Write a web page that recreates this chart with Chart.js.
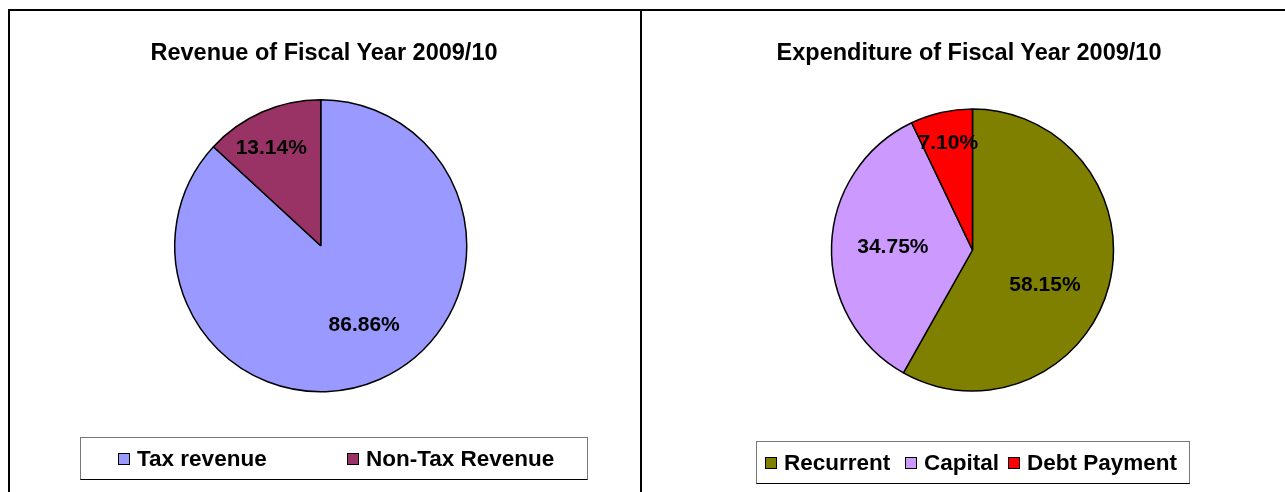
<!DOCTYPE html>
<html>
<head>
<meta charset="utf-8">
<script src="https://cdn.jsdelivr.net/npm/chart.js@4/dist/chart.umd.min.js"></script>
<style>
  body { margin: 0; background: #fff; font-family: "Liberation Sans", Arial, sans-serif; }
  #page { position: relative; width: 1285px; height: 492px; overflow: hidden; }
  .frame { position: absolute; background: #000; }
  canvas { position: absolute; top: 0; }
  .title { position: absolute; font-weight: bold; font-size: 23.5px; color: #000; white-space: nowrap; transform: translateX(-50%); }
  .legend { position: absolute; border: 1px solid #777; border-bottom-color: #000; box-sizing: border-box; }
  .legend .item { position: absolute; top: 0; height: 100%; display: flex; align-items: center; font-weight: bold; font-size: 22.5px; white-space: nowrap; }
  .legend .box { width: 10px; height: 10px; border: 1px solid #000; margin-right: 7px; }
</style>
</head>
<body>
<div id="page">
  <div class="frame" style="left:8px;top:9px;width:1277px;height:2px"></div>
  <div class="frame" style="left:8px;top:9px;width:2px;height:483px"></div>
  <div class="frame" style="left:640px;top:9px;width:2px;height:483px"></div>

  <canvas id="revenueChart" width="641" height="492" style="left:0"></canvas>
  <canvas id="expenditureChart" width="642" height="492" style="left:643px"></canvas>

  <div class="title" style="left:324px;top:39px">Revenue of Fiscal Year 2009/10</div>
  <div class="title" style="left:969px;top:39px">Expenditure of Fiscal Year 2009/10</div>

  <div class="legend" id="revenueLegend" style="left:80px;top:437px;width:508px;height:43px"></div>
  <div class="legend" id="expenditureLegend" style="left:756px;top:441px;width:434px;height:43px"></div>
</div>

<script>
// Revenue
const revenueLabels = ['Tax revenue', 'Non-Tax Revenue'];
const revenueShares = [86.86, 13.14];
const revenueColors = ['#9999FF', '#993366'];

// Expenditure
const expenditureLabels = ['Recurrent', 'Capital', 'Debt Payment'];
const expenditureShares = [58.15, 34.75, 7.10];
const expenditureColors = ['#808000', '#CC99FF', '#FF0000'];

// where the % labels sit: fraction of radius, and a nudge (degrees) off the slice middle
const revenueLabelPos = [[0.62, -5], [0.75, -3.2]];
const expenditureLabelPos = [[0.57, 11], [0.565, 0], [0.775, 0]];

const pctLabels = {
  id: 'pctLabels',
  afterDatasetsDraw(chart, args, opts) {
    const ctx = chart.ctx;
    const meta = chart.getDatasetMeta(0);
    const values = chart.data.datasets[0].data;
    ctx.save();
    ctx.font = 'bold 21px "Liberation Sans", Arial, sans-serif';
    ctx.fillStyle = '#000';
    ctx.textAlign = 'center';
    ctx.textBaseline = 'middle';
    meta.data.forEach(function (arc, i) {
      const p = arc.getProps(['x', 'y', 'startAngle', 'endAngle', 'outerRadius'], true);
      const mid = (p.startAngle + p.endAngle) / 2 + opts.pos[i][1] * Math.PI / 180;
      const r = p.outerRadius * opts.pos[i][0];
      ctx.fillText(values[i].toFixed(2) + '%', p.x + Math.cos(mid) * r, p.y + Math.sin(mid) * r);
    });
    ctx.restore();
  }
};

function makePie(id, labels, values, colors, padding, labelPos) {
  const ctx = document.getElementById(id).getContext('2d');
  return new Chart(ctx, {
    type: 'pie',
    data: {
      labels: labels,
      datasets: [{
        data: values,
        backgroundColor: colors,
        borderColor: '#000',
        borderWidth: 1.5,
      }]
    },
    options: {
      responsive: false,
      animation: false,
      layout: { padding: padding },
      plugins: {
        legend: { display: false },
        tooltip: { enabled: false },
        pctLabels: { pos: labelPos }
      }
    },
    plugins: [pctLabels]
  });
}

function buildLegend(chart, elId, positions) {
  const el = document.getElementById(elId);
  const ds = chart.data.datasets[0];
  chart.data.labels.forEach(function (label, i) {
    const item = document.createElement('div');
    item.className = 'item';
    item.style.left = positions[i] + 'px';
    const box = document.createElement('span');
    box.className = 'box';
    box.style.background = ds.backgroundColor[i];
    item.appendChild(box);
    item.appendChild(document.createTextNode(label));
    el.appendChild(item);
  });
}

const revenueChart = makePie('revenueChart', revenueLabels, revenueShares, revenueColors,
  { left: 174, top: 99, right: 173.5, bottom: 99.5 }, revenueLabelPos);
const expenditureChart = makePie('expenditureChart', expenditureLabels, expenditureShares, expenditureColors,
  { left: 187.75, top: 108.25, right: 170.75, bottom: 100.25 }, expenditureLabelPos);

buildLegend(revenueChart, 'revenueLegend', [37, 266]);
buildLegend(expenditureChart, 'expenditureLegend', [8, 148, 251]);
</script>
</body>
</html>
